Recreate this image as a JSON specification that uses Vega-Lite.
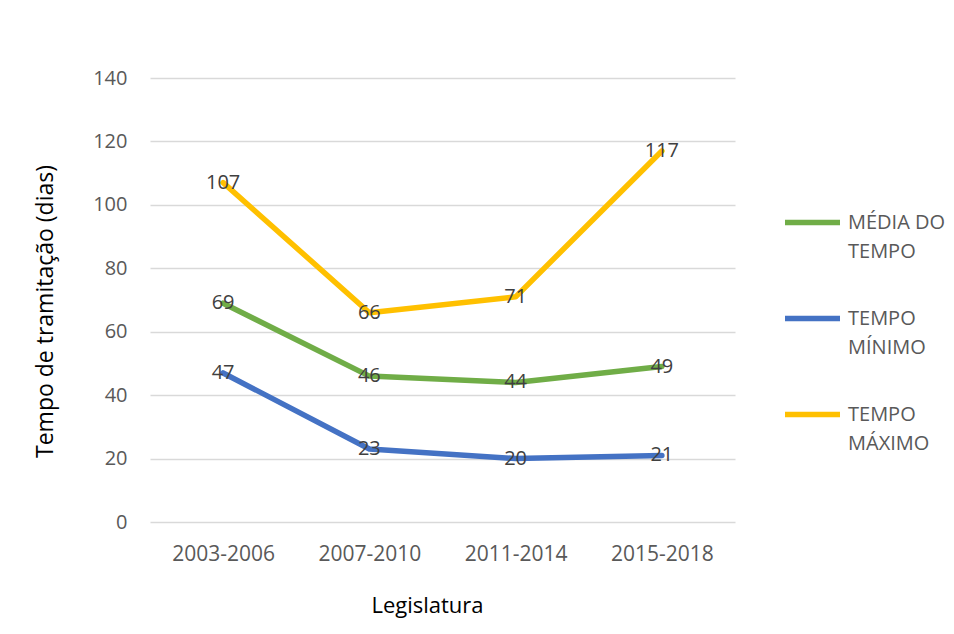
{
  "$schema": "https://vega.github.io/schema/vega-lite/v6.json",
  "width": 585,
  "height": 444,
  "autosize": {"type": "none"},
  "padding": {"left": 150, "top": 78, "right": 219, "bottom": 112},
  "background": "white",
  "config": {
    "view": {"stroke": null},
    "font": "Open Sans",
    "style": {"guide-label": {"lineHeight": 29}}
  },
  "data": {
    "values": [
      {"legislatura": "2003-2006", "serie": "MÉDIA DO TEMPO", "valor": 69},
      {"legislatura": "2007-2010", "serie": "MÉDIA DO TEMPO", "valor": 46},
      {"legislatura": "2011-2014", "serie": "MÉDIA DO TEMPO", "valor": 44},
      {"legislatura": "2015-2018", "serie": "MÉDIA DO TEMPO", "valor": 49},
      {"legislatura": "2003-2006", "serie": "TEMPO MÍNIMO", "valor": 47},
      {"legislatura": "2007-2010", "serie": "TEMPO MÍNIMO", "valor": 23},
      {"legislatura": "2011-2014", "serie": "TEMPO MÍNIMO", "valor": 20},
      {"legislatura": "2015-2018", "serie": "TEMPO MÍNIMO", "valor": 21},
      {"legislatura": "2003-2006", "serie": "TEMPO MÁXIMO", "valor": 107},
      {"legislatura": "2007-2010", "serie": "TEMPO MÁXIMO", "valor": 66},
      {"legislatura": "2011-2014", "serie": "TEMPO MÁXIMO", "valor": 71},
      {"legislatura": "2015-2018", "serie": "TEMPO MÁXIMO", "valor": 117}
    ]
  },
  "encoding": {
    "x": {
      "field": "legislatura",
      "type": "nominal",
      "sort": ["2003-2006", "2007-2010", "2011-2014", "2015-2018"],
      "scale": {"type": "point", "padding": 0.5},
      "axis": {
        "title": "Legislatura",
        "labelAngle": 0,
        "labelFontSize": 21,
        "labelColor": "#595959",
        "labelPadding": 21,
        "ticks": false,
        "domain": false,
        "grid": false,
        "titleFontSize": 22,
        "titleColor": "#000000",
        "titleFontWeight": "normal",
        "titlePadding": 31,
        "titleX": 277
      }
    },
    "y": {
      "field": "valor",
      "type": "quantitative",
      "scale": {"domain": [0, 140], "nice": false},
      "axis": {
        "title": "Tempo de tramitação (dias)",
        "values": [0, 20, 40, 60, 80, 100, 120, 140],
        "labelFontSize": 20,
        "labelColor": "#595959",
        "labelPadding": 23,
        "ticks": false,
        "domain": false,
        "grid": true,
        "gridColor": "#D9D9D9",
        "gridWidth": 1.5,
        "titleFontSize": 23,
        "titleColor": "#000000",
        "titleFontWeight": "normal",
        "titlePadding": 35,
        "titleY": 233
      }
    }
  },
  "layer": [
    {
      "mark": {"type": "line", "strokeWidth": 5.5, "strokeCap": "round", "strokeJoin": "round"},
      "encoding": {
        "color": {
          "field": "serie",
          "type": "nominal",
          "sort": ["MÉDIA DO TEMPO", "TEMPO MÍNIMO", "TEMPO MÁXIMO"],
          "scale": {
            "domain": ["MÉDIA DO TEMPO", "TEMPO MÍNIMO", "TEMPO MÁXIMO"],
            "range": ["#70AD47", "#4472C4", "#FFC000"]
          },
          "legend": {
            "orient": "none",
            "legendX": 632,
            "legendY": 114,
            "padding": 0,
            "title": null,
            "symbolType": "stroke",
            "symbolSize": 3025,
            "symbolStrokeWidth": 5.5,
            "labelFontSize": 20,
            "labelColor": "#595959",
            "labelOffset": 5,
            "labelLimit": 300,
            "rowPadding": 26,
            "labelExpr": "datum.label == 'MÉDIA DO TEMPO' ? ['MÉDIA DO', 'TEMPO'] : datum.label == 'TEMPO MÍNIMO' ? ['TEMPO', 'MÍNIMO'] : ['TEMPO', 'MÁXIMO']"
          }
        }
      }
    },
    {
      "mark": {"type": "text", "fontSize": 20, "color": "#404040"},
      "encoding": {"text": {"field": "valor", "type": "quantitative"}}
    }
  ]
}
